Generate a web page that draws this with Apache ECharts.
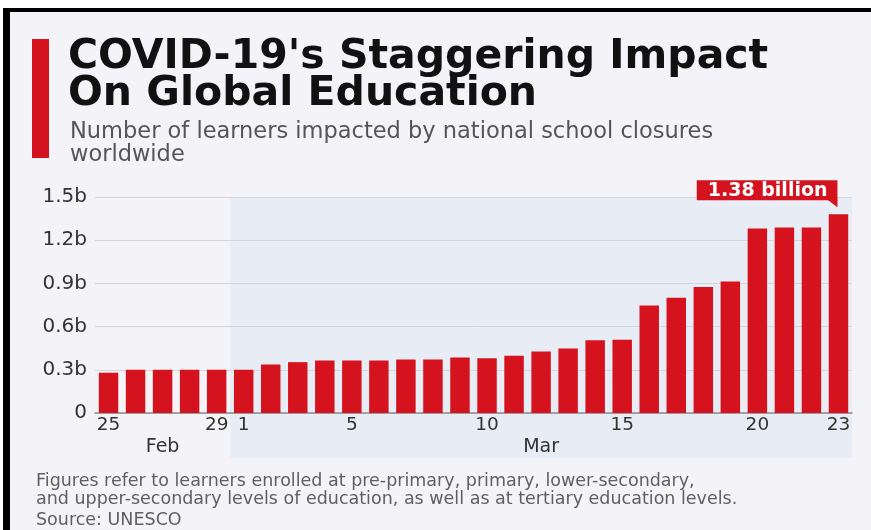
<!DOCTYPE html>
<html>
<head>
<meta charset="utf-8">
<script src="https://cdn.jsdelivr.net/npm/echarts@6/dist/echarts.min.js"></script>
<style>
  html, body { margin: 0; padding: 0; background: #ffffff; }
  #chart { width: 871px; height: 530px; }
</style>
</head>
<body>
<div id="chart"></div>
<script>
// ---- data ----
const days = ['25','26','27','28','29','1','2','3','4','5','6','7','8','9','10','11','12','13','14','15','16','17','18','19','20','21','22','23'];
const months = ['Feb','Feb','Feb','Feb','Feb','Mar','Mar','Mar','Mar','Mar','Mar','Mar','Mar','Mar','Mar','Mar','Mar','Mar','Mar','Mar','Mar','Mar','Mar','Mar','Mar','Mar','Mar','Mar'];
const learners = [0.28, 0.30, 0.30, 0.30, 0.30, 0.30, 0.337, 0.353, 0.365, 0.365, 0.365, 0.372, 0.372, 0.385, 0.381, 0.397, 0.427, 0.448, 0.505, 0.508, 0.746, 0.801, 0.875, 0.914, 1.281, 1.288, 1.288, 1.38];
const shownDays = ['25','29','1','5','10','15','20','23'];
const yTicks = [0, 0.3, 0.6, 0.9, 1.2, 1.5];
const calloutText = '1.38 billion';
const titleText = "COVID-19's Staggering Impact\nOn Global Education";
const subtitleText = 'Number of learners impacted by national school closures\nworldwide';
const noteText = 'Figures refer to learners enrolled at pre-primary, primary, lower-secondary,\nand upper-secondary levels of education, as well as at tertiary education levels.';
const sourceText = 'Source: UNESCO';
const shadedMonth = 'Mar';

// month label positions (middle category of each month group)
const monthMid = {};
(function () {
  const groups = {};
  months.forEach((m, i) => { (groups[m] = groups[m] || []).push(i); });
  Object.keys(groups).forEach(m => {
    const g = groups[m];
    monthMid[Math.floor((g[0] + g[g.length - 1]) / 2)] = m;
  });
})();

const RED = '#d5131f';
const FONT = 'DejaVu Sans';
const last = learners.length - 1;

const chart = echarts.init(document.getElementById('chart'), null, { renderer: 'canvas' });

const option = {
  backgroundColor: '#f4f4f8',
  animation: false,
  textStyle: { fontFamily: FONT },
  title: [
    {
      text: titleText, left: 63, top: 34,
      textStyle: { fontFamily: FONT, fontSize: 41, fontWeight: 'bold', color: '#111', lineHeight: 37 }
    },
    {
      text: subtitleText, left: 65, top: 116,
      textStyle: { fontFamily: FONT, fontSize: 22.5, fontWeight: 'normal', color: '#555', lineHeight: 23 }
    },
    {
      text: noteText, left: 31, top: 467,
      textStyle: { fontFamily: FONT, fontSize: 17.5, fontWeight: 'normal', color: '#5f5f5f', lineHeight: 18 }
    },
    {
      text: sourceText, left: 31, top: 506,
      textStyle: { fontFamily: FONT, fontSize: 17.5, fontWeight: 'normal', color: '#5f5f5f' }
    }
  ],
  grid: { left: 95, right: 19, top: 197, bottom: 117, containLabel: false },
  xAxis: [
    {
      type: 'category', data: days, position: 'bottom',
      axisLine: { lineStyle: { color: '#8a8a8a', width: 1.5 } },
      axisTick: { show: false },
      axisLabel: {
        interval: 0, margin: 3, fontFamily: FONT, fontSize: 18.5, color: '#333',
        formatter: v => shownDays.includes(v) ? v : ''
      }
    },
    {
      type: 'category', data: days, position: 'bottom', offset: 22,
      axisLine: { show: false }, axisTick: { show: false },
      axisLabel: {
        interval: 0, margin: 3, fontFamily: FONT, fontSize: 19, color: '#333',
        formatter: (v, i) => monthMid[i] || ''
      }
    }
  ],
  yAxis: {
    type: 'value', min: yTicks[0], max: yTicks[yTicks.length - 1], interval: yTicks[1] - yTicks[0],
    axisLine: { show: false }, axisTick: { show: false },
    splitLine: { lineStyle: { color: '#d3d5dc', width: 1 } },
    axisLabel: {
      margin: 8, fontFamily: FONT, fontSize: 20, color: '#333',
      formatter: v => v === 0 ? '0' : v.toFixed(1) + 'b'
    }
  },
  series: [
    {
      type: 'bar', xAxisIndex: 0,
      barWidth: '72%',
      itemStyle: { color: RED },
      z: 3,
      data: learners.map((v, i) => i === last ? {
        value: v,
        label: {
          show: true, position: 'top', distance: 14, align: 'right', verticalAlign: 'bottom',
          offset: [-1, 0],
          formatter: calloutText,
          backgroundColor: RED, color: '#fff', fontFamily: FONT, fontWeight: 'bold', fontSize: 19,
          padding: [1, 10, 0, 11], lineHeight: 19
        }
      } : v)
    }
  ]
};

chart.setOption(option);

// decorations placed through the chart's own coordinate conversion
function decorate() {
  const first = months.indexOf(shadedMonth);
  const c0 = chart.convertToPixel({ xAxisIndex: 0 }, 0);
  const cl = chart.convertToPixel({ xAxisIndex: 0 }, last);
  const bw = (cl - c0) / last;
  const xs = chart.convertToPixel({ xAxisIndex: 0 }, first) - bw / 2;
  const xe = cl + bw / 2;
  const yTop = chart.convertToPixel({ yAxisIndex: 0 }, yTicks[yTicks.length - 1]);
  const yZero = chart.convertToPixel({ yAxisIndex: 0 }, 0);
  const tip = chart.convertToPixel({ xAxisIndex: 0, yAxisIndex: 0 }, [last, learners[last]]);
  const bx = tip[0] - 1, by = tip[1] - 14;

  chart.setOption({
    graphic: [
      { type: 'rect', z: -10, silent: true, shape: { x: xs, y: yTop, width: xe - xs, height: yZero - yTop + 45 }, style: { fill: '#e8edf5' } },
      { type: 'rect', z: 10, silent: true, shape: { x: 0, y: 0, width: 871, height: 8 }, style: { fill: '#ffffff' } },
      { type: 'rect', z: 10, silent: true, shape: { x: 0, y: 8, width: 871, height: 4 }, style: { fill: '#000000' } },
      { type: 'rect', z: 10, silent: true, shape: { x: 0, y: 8, width: 3, height: 522 }, style: { fill: '#ffffff' } },
      { type: 'rect', z: 10, silent: true, shape: { x: 3, y: 8, width: 7, height: 522 }, style: { fill: '#000000' } },
      { type: 'rect', z: 10, silent: true, shape: { x: 32, y: 39, width: 17, height: 119 }, style: { fill: RED } },
      { type: 'polygon', z: 10, silent: true, shape: { points: [[bx - 10, by - 0.5], [bx, by - 0.5], [bx, by + 7]] }, style: { fill: RED } }
    ]
  });
}
decorate();
</script>
</body>
</html>
